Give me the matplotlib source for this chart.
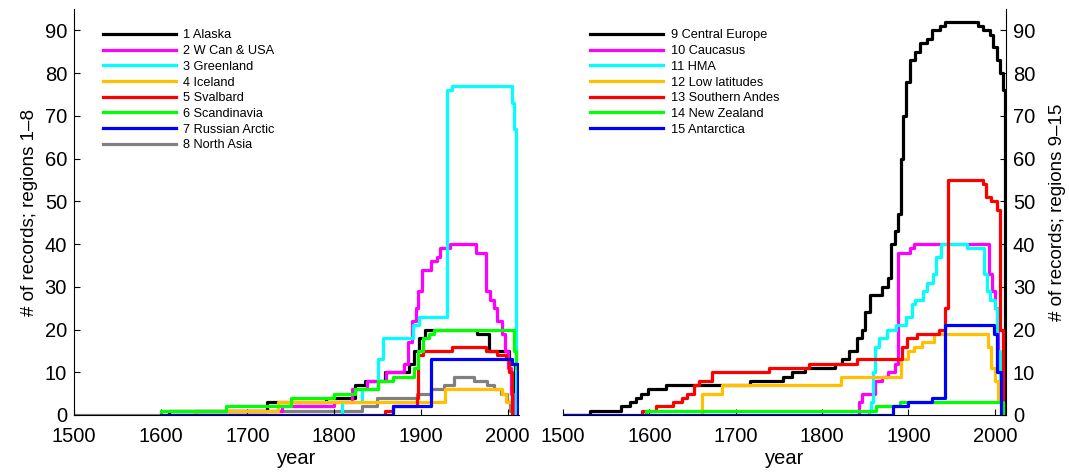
import numpy as np
import matplotlib.pyplot as plt

plt.rcParams['font.family'] = ['Liberation Sans', 'DejaVu Sans']

# (year, number of records) breakpoints, step functions
alaska_yr = [1610, 1610, 1722, 1790, 1824, 1836, 1859, 1886, 1892, 1898, 1905, 1965, 1978, 2002, 2008]
alaska_n = [0, 1, 3, 4, 7, 8, 10, 12, 15, 18, 20, 19, 15, 12, 0]
wcan_yr = [1640, 1640, 1720, 1740, 1800, 1820, 1838, 1860, 1880, 1885, 1890, 1894, 1897, 1901, 1912, 1918,
           1922, 1933, 1964, 1975, 1980, 1984, 1988, 1993, 1997, 2000, 2004, 2008]
wcan_n = [0, 1, 1, 2, 3, 6, 8, 10, 12, 17, 22, 25, 29, 34, 36, 37, 39, 40, 38, 29, 27, 25, 22, 19, 15, 11, 5, 0]
greenl_yr = [1809, 1809, 1832, 1850, 1856, 1891, 1898, 1930, 1936, 2005, 2007, 2010]
greenl_n = [0, 3, 6, 13, 18, 21, 23, 76, 77, 73, 67, 0]
iceland_yr = [1640, 1640, 1735, 1928, 1993, 1998, 2005]
iceland_n = [0, 1, 3, 6, 5, 3, 0]
svalb_yr = [1859, 1859, 1868, 1895, 1897, 1902, 1936, 1975, 1988, 1998, 2001, 2005]
svalb_n = [0, 1, 2, 4, 14, 15, 16, 15, 14, 13, 10, 0]
scand_yr = [1600, 1600, 1675, 1750, 1800, 1824, 1850, 1868, 1892, 1896, 1902, 1909, 1915, 2004, 2007, 2010, 2012]
scand_n = [0, 1, 2, 4, 5, 6, 8, 9, 11, 15, 18, 19, 20, 20, 15, 11, 0]
rusarc_yr = [1600, 1868, 1911, 2005, 2012]
rusarc_n = [0, 2, 13, 12, 0]
nasia_yr = [1500, 1600, 1832, 1849, 1895, 1911, 1926, 1938, 1961, 1976, 1984, 1992, 1999, 2003, 2008]
nasia_n = [0, 1, 2, 4, 5, 6, 7, 9, 8, 7, 6, 5, 3, 1, 0]

ceur_yr = [1500, 1531, 1567, 1578, 1585, 1590, 1598, 1619, 1717, 1755, 1765, 1780, 1815, 1823, 1831, 1840,
           1846, 1850, 1855, 1869, 1876, 1880, 1884, 1888, 1891, 1894, 1897, 1902, 1908, 1913, 1921, 1927,
           1936, 1942, 1980, 1986, 1994, 1998, 2002, 2006, 2010, 2012]
ceur_n = [0, 1, 2, 3, 4, 5, 6, 7, 8, 9, 10, 11, 12, 13, 15, 18, 20, 24, 28, 30, 32, 40, 43, 47, 60, 70, 78,
          83, 85, 87, 88, 90, 91, 92, 91, 90, 89, 86, 83, 80, 76, 0]
cauc_yr = [1843, 1843, 1846, 1861, 1869, 1876, 1884, 1888, 1902, 1906, 1989, 1993, 1997, 2000, 2004, 2010]
cauc_n = [0, 3, 5, 8, 9, 10, 12, 38, 39, 40, 40, 33, 29, 25, 10, 0]
hma_yr = [1854, 1854, 1857, 1859, 1861, 1866, 1875, 1886, 1897, 1904, 1908, 1917, 1921, 1928, 1932, 1938,
          1968, 1988, 1991, 1995, 2000, 2003, 2006, 2008]
hma_n = [0, 1, 3, 10, 16, 18, 20, 21, 23, 26, 27, 29, 31, 33, 37, 40, 39, 33, 29, 27, 25, 15, 5, 0]
lowlat_yr = [1661, 1661, 1684, 1822, 1891, 1899, 1906, 1916, 1930, 1988, 1992, 1996, 2000, 2004, 2009]
lowlat_n = [0, 5, 7, 9, 13, 15, 16, 17, 19, 19, 16, 11, 8, 3, 0]
sandes_yr = [1592, 1592, 1608, 1627, 1638, 1644, 1652, 1658, 1673, 1738, 1785, 1840, 1892, 1898, 1910, 1935,
             1942, 1946, 1986, 1990, 1996, 2002, 2006, 2009]
sandes_n = [0, 1, 2, 3, 4, 5, 7, 8, 10, 11, 12, 13, 16, 18, 19, 20, 25, 55, 54, 51, 50, 48, 20, 0]
nzeal_yr = [1596, 1596, 1863, 1890, 2005, 2010]
nzeal_n = [0, 1, 2, 3, 3, 0]
antarc_yr = [1500, 1882, 1900, 1927, 1942, 1996, 1999, 2002, 2007]
antarc_n = [0, 2, 3, 4, 21, 21, 19, 10, 0]

labels_left = ['1 Alaska', '2 W Can & USA', '3 Greenland', '4 Iceland', '5 Svalbard',
               '6 Scandinavia', '7 Russian Arctic', '8 North Asia']
labels_right = ['9 Central Europe', '10 Caucasus', '11 HMA', '12 Low latitudes',
                '13 Southern Andes', '14 New Zealand', '15 Antarctica']

left_data = [(alaska_yr, alaska_n), (wcan_yr, wcan_n), (greenl_yr, greenl_n), (iceland_yr, iceland_n),
             (svalb_yr, svalb_n), (scand_yr, scand_n), (rusarc_yr, rusarc_n), (nasia_yr, nasia_n)]
right_data = [(ceur_yr, ceur_n), (cauc_yr, cauc_n), (hma_yr, hma_n), (lowlat_yr, lowlat_n),
              (sandes_yr, sandes_n), (nzeal_yr, nzeal_n), (antarc_yr, antarc_n)]

colors = ['black', '#ff00ff', '#00ffff', '#ffc000', 'red', '#00ff00', 'blue', 'grey']

fig = plt.figure(figsize=(10.69, 4.74), dpi=100)
ax1 = fig.add_axes([74 / 1069, 59 / 474, 445 / 1069, 406 / 474])
ax2 = fig.add_axes([563 / 1069, 59 / 474, 443 / 1069, 406 / 474])

for i, (yr, n) in enumerate(left_data):
    z = 1.5 if i == 7 else 2
    ax1.plot(yr, n, drawstyle='steps-post', color=colors[i], lw=2.3, label=labels_left[i], zorder=z)
for i, (yr, n) in enumerate(right_data):
    ax2.plot(yr, n, drawstyle='steps-post', color=colors[i], lw=2.3, label=labels_right[i])

for ax in (ax1, ax2):
    ax.set_xlim(1500, 2013)
    ax.set_ylim(0, 95)
    ax.set_xticks(np.arange(1500, 2001, 100))
    ax.set_yticks(np.arange(0, 91, 10))
    ax.tick_params(direction='in', length=4, labelsize=14.5)
    ax.tick_params(axis='x', pad=9)
    ax.tick_params(axis='y', pad=5)
    ax.spines['top'].set_visible(False)
    ax.set_xlabel('year', fontsize=14.5, labelpad=2)

ax1.spines['right'].set_visible(False)
ax1.set_ylabel('# of records; regions 1\u20138', fontsize=13.5, labelpad=5)
ax2.spines['left'].set_visible(False)
ax2.yaxis.tick_right()
ax2.yaxis.set_label_position('right')
ax2.set_ylabel('# of records; regions 9\u201315', fontsize=13.5, labelpad=10)

ax1.legend(loc='upper left', bbox_to_anchor=(0.039, 0.978), frameon=False, handlelength=5.7,
           fontsize=9.2, labelspacing=0.29, handletextpad=0.6)
ax2.legend(loc='upper left', bbox_to_anchor=(0.036, 0.978), frameon=False, handlelength=5.7,
           fontsize=9.2, labelspacing=0.29, handletextpad=0.6)

fig.savefig('out.png', dpi=100)
